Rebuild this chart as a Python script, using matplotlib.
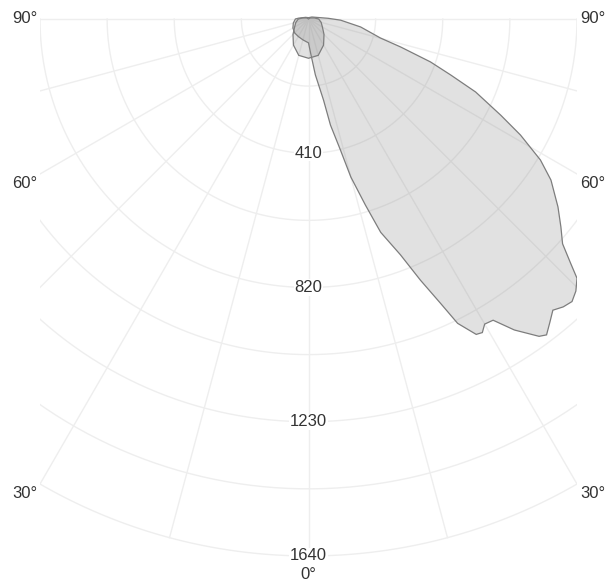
import matplotlib.pyplot as plt
import numpy as np

plt.rcParams['font.family'] = ['Liberation Sans', 'DejaVu Sans']

# ---- données lues sur le diagramme (angle gamma en degrés, intensité en cd) ----
# courbe principale (plan asymétrique)
gamma_c0 = [-180, -120, -95, -90, -75, -60, -45, -30, -15, 0, 3.5, 7, 10.5, 11.7, 13.7, 15, 17, 18.7,
            21.3, 23.2, 24.9, 26.1, 28, 29, 30, 31.5, 33.5, 36, 37, 38.5, 40, 41.5, 43, 44.5,
            46, 47, 48.5, 50.5, 53, 56.4, 58.7, 61.3, 63.4, 66.4, 68.5, 70.6, 73.1, 75.2, 81.3,
            87.9, 92, 120]
int_c0 = [4, 10, 30, 40, 48, 55, 60, 62, 66, 73, 104, 172, 252, 331, 412, 500, 594, 688,
          773, 868, 957, 1035, 1091, 1095, 1076, 1079, 1139, 1198, 1208, 1184, 1161, 1174, 1180, 1165,
          1140, 1095, 1036, 999, 954, 889, 829, 738, 657, 557, 467, 395, 294, 227, 161,
          98, 60, 12]

# petite courbe (plan symétrique)
gamma_c90 = [-180, -120, -100, -90, -75, -60, -45, -30, -15, 0, 15, 30, 45, 60, 75, 90, 100, 120]
int_c90 = [0, 6, 18, 31, 40, 49, 67, 92, 115, 120, 115, 92, 67, 49, 40, 31, 18, 6]

rayons = [205, 410, 615, 820, 1025, 1230, 1435, 1640]
rayons_labels = [410, 820, 1230, 1640]
angles_grille = list(range(-90, 91, 15))
angles_labels = [90, 60, 30]

rmax = 1640
s = 537 / 1640          # pixels par candela

fig = plt.figure(figsize=(6.09, 5.84), dpi=100)
ax = fig.add_axes([40 / 609, (584 - 565.8) / 584, 537 / 609, 1690 * s / 584])
ax.set_xlim(-820, 820)
ax.set_ylim(-1670, 20)
ax.axis('off')

grid_col = '#eeeeee'
th = np.radians(np.linspace(-90, 90, 361))
for r in rayons:
    ax.plot(r * np.sin(th), -r * np.cos(th), color=grid_col, lw=1, zorder=1)
for a in angles_grille:
    t = np.radians(a)
    ax.plot([0, rmax * np.sin(t)], [0, -rmax * np.cos(t)], color=grid_col, lw=1, zorder=1)


def polaire(g, i):
    g = np.radians(np.array(g, dtype=float))
    i = np.array(i, dtype=float)
    return i * np.sin(g), -i * np.cos(g)


x0, y0 = polaire(gamma_c0, int_c0)
x9, y9 = polaire(gamma_c90, int_c90)
ax.fill(x0, y0, facecolor=(0.5, 0.5, 0.5, 0.23), edgecolor='#7d7d7d', lw=0.9, zorder=2)
ax.fill(x9, y9, facecolor=(0.5, 0.5, 0.5, 0.23), edgecolor='#7d7d7d', lw=0.9, zorder=3)

txt_col = '#333333'
for r in rayons_labels:
    ax.text(0, -r, str(r), ha='center', va='center', fontsize=12, color=txt_col, zorder=5,
            bbox=dict(facecolor='white', edgecolor='none', pad=0.5))
ax.text(0, -rmax - 58, '0°', ha='center', va='center', fontsize=12, color=txt_col)

for a in angles_labels:
    if a == 90:
        y = 0
    else:
        y = -820 / np.tan(np.radians(a)) - 28
    ax.text(-829, y, f'{a}°', ha='right', va='center', fontsize=12, color=txt_col)
    ax.text(829, y, f'{a}°', ha='left', va='center', fontsize=12, color=txt_col)

fig.savefig('out.png', dpi=100)
